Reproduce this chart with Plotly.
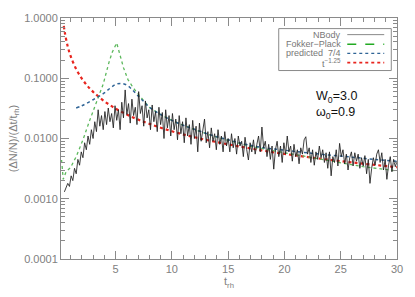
import numpy as np
import plotly.graph_objects as go

# ---------------- data ----------------
# t^-1.25 reference curve
t_pow = [0.4, 0.5, 0.75, 1, 1.5, 2, 2.5, 3, 4, 5, 6, 7, 8, 10, 12, 15, 18, 21, 24, 27, 30]
y_pow = [0.739, 0.559, 0.337, 0.235, 0.1416, 0.0988, 0.0747, 0.0595, 0.0415, 0.0314,
         0.0250, 0.0206, 0.0175, 0.0132, 0.0105, 0.0080, 0.00634, 0.00523, 0.00443,
         0.00382, 0.00334]

# predicted 7/4
t_pred = [1.5, 2, 2.5, 3, 3.5, 4, 4.5, 5, 5.5, 6, 6.5, 7, 7.5, 8, 9, 10, 11, 12, 13,
          14, 15, 16, 17, 18, 20, 22, 24, 26, 28, 30]
y_pred = [0.032, 0.035, 0.039, 0.044, 0.050, 0.057, 0.068, 0.079, 0.082, 0.077, 0.064,
          0.051, 0.041, 0.033, 0.025, 0.020, 0.0166, 0.0142, 0.0122, 0.0107, 0.0095,
          0.0085, 0.0077, 0.0071, 0.0064, 0.0058, 0.0053, 0.0049, 0.0045, 0.0042]

# Fokker-Planck
t_fp = [0.2, 0.35, 0.6, 1.0, 1.5, 2.1, 2.7, 3.3, 3.9, 4.4, 4.7, 5.1, 5.4, 5.7, 6.1,
        6.6, 7.1, 7.6, 8, 9, 10, 11, 12, 13, 14, 15, 17, 20, 23, 25, 27, 30]
y_fp = [0.0044, 0.0021, 0.0028, 0.0033, 0.0050, 0.0095, 0.020, 0.039, 0.080, 0.18,
        0.27, 0.385, 0.24, 0.15, 0.095, 0.068, 0.052, 0.041, 0.033, 0.025, 0.020,
        0.0166, 0.0141, 0.0121, 0.0105, 0.0093, 0.0074, 0.0058, 0.0046, 0.0039,
        0.0034, 0.0029]

# N-body (sampled every 0.15 t_rh from 0.45 to 30), units of 1e-3
nbody_t_start, nbody_t_step = 0.45, 0.15
nbody_milli = [
    1.3, 1.5, 1.8, 1.6, 2.4, 2.0, 3.2, 2.6, 4.5, 3.6, 6.0,
    4.8, 8.5, 6.5, 11, 8, 14, 10, 19, 13, 30, 16,
    24, 14, 28, 17, 32, 19, 26, 15, 35, 20, 30,
    14, 40, 22, 64, 25, 38, 18, 45, 24, 33, 17,
    60, 26, 35, 16, 42, 22, 30, 14, 36, 19, 28,
    13, 33, 17, 27, 10, 30, 15, 24, 11, 26, 14,
    21, 9.5, 24, 12, 19, 8.5, 22, 11, 17, 8, 20,
    10, 16, 6, 18, 9, 14, 21, 8.5, 13, 7, 15,
    9, 12, 6.5, 14, 8, 11, 6, 13, 7.5, 10, 6,
    12, 7, 10, 5.5, 11, 7.5, 9, 5, 10.5, 6.5, 4.4,
    8.5, 6, 9.5, 5.5, 8, 11, 6, 15.5, 7, 9, 5,
    8, 4.5, 7.5, 3.1, 6.5, 9, 5, 7.5, 4, 8.5, 5.5,
    11, 6, 7.5, 4.2, 8, 5, 6.5, 3.8, 7, 5.5, 9.5,
    10.7, 5.5, 7, 4, 6.5, 3.6, 6, 4.5, 7.5, 4.8, 6.5,
    4, 5.8, 3.2, 6, 2.4, 5, 4, 6.5, 3.5, 8.3, 5,
    6.5, 3.8, 5.5, 3, 4.8, 6, 3.5, 5.8, 4.2, 5.5, 3.2,
    4.8, 3.5, 5.2, 2.6, 4.5, 1.8, 3.2, 4.8, 3.6, 5.5, 6.5,
    4, 5.8, 3, 4.5, 2.1, 3.6, 5, 2.8, 4.5, 3.4, 4.2,
]
t_nb = nbody_t_start + nbody_t_step * np.arange(len(nbody_milli))
y_nb = np.array(nbody_milli) * 1e-3

y_tickvals = [0.0001, 0.001, 0.01, 0.1, 1.0]
y_ticktext = ["0.0001", "0.0010", "0.0100", "0.1000", "1.0000"]
x_tickvals = [5, 10, 15, 20, 25, 30]

legend_labels = ["NBody", "Fokker\u2212Plack", "predicted  7/4", "t<sup>\u22121.25</sup>"]

# ---------------- figure ----------------
C_NB = "#1e1e1e"
C_FP = "#5cb85c"
C_PR = "#2f6496"
C_PW = "#e8251e"
AX = "#8a8a8a"

fig = go.Figure()
fig.add_trace(go.Scatter(x=t_pow, y=y_pow, mode="lines", line=dict(color=C_PW, width=2.2, dash="dot", shape="spline"), showlegend=False))
fig.add_trace(go.Scatter(x=t_fp, y=y_fp, mode="lines", line=dict(color=C_FP, width=1.3, dash="dot"), showlegend=False))
fig.add_trace(go.Scatter(x=t_pred, y=y_pred, mode="lines", line=dict(color=C_PR, width=1.5, dash="dot", shape="spline"), showlegend=False))
fig.add_trace(go.Scatter(x=t_nb, y=y_nb, mode="lines", line=dict(color=C_NB, width=0.85), showlegend=False))

font = dict(family="Liberation Sans, Arial, sans-serif", size=11, color="#808080")

fig.update_layout(
    width=415, height=297,
    margin=dict(l=52, r=16, t=16, b=33),
    paper_bgcolor="white", plot_bgcolor="white",
    font=font,
    showlegend=False,
)
fig.update_xaxes(
    range=[0.15, 30], showgrid=False, zeroline=False,
    showline=True, linecolor=AX, linewidth=1, mirror="allticks",
    ticks="inside", ticklen=8, tickcolor=AX, tickwidth=1,
    tickvals=x_tickvals, ticktext=[str(v) for v in x_tickvals],
    minor=dict(ticks="inside", ticklen=4, tickcolor=AX, dtick=1, showgrid=False),
    title=dict(text="t<sub>rh</sub>", font=dict(size=11, color="#808080"), standoff=2),
)
fig.update_yaxes(
    type="log", range=[-4, 0], showgrid=False, zeroline=False,
    showline=True, linecolor=AX, linewidth=1, mirror="allticks",
    ticks="inside", ticklen=8, tickcolor=AX, tickwidth=1,
    tickvals=y_tickvals, ticktext=y_ticktext,
    minor=dict(ticks="inside", ticklen=4, tickcolor=AX, showgrid=False,
               tickvals=[m * 10.0 ** e for e in range(-4, 0) for m in range(2, 10)]),
    title=dict(text="(\u0394N/N)/(\u0394t/t<sub>rh</sub>)", font=dict(size=11, color="#808080"), standoff=4),
)

# legend box (drawn manually: text right-aligned, sample line to the right)
fig.add_shape(type="rect", xref="paper", yref="paper", x0=0.648, x1=0.983, y0=0.782, y1=0.956,
              line=dict(color=AX, width=1), fillcolor="white", layer="above")
rows_y = [0.931, 0.891, 0.853, 0.815]
styles = [dict(color="#888888", width=1, dash="solid"),
          dict(color="#22aa22", width=1.3, dash="dash"),
          dict(color=C_PR, width=1.3, dash="dot"),
          dict(color=C_PW, width=1.6, dash="dot")]
for lab, yy, st in zip(legend_labels, rows_y, styles):
    fig.add_annotation(xref="paper", yref="paper", x=0.838, y=yy, text=lab, showarrow=False,
                       xanchor="right", yanchor="middle", font=dict(size=9, color="#777777"))
    fig.add_shape(type="line", xref="paper", yref="paper", x0=0.852, x1=0.962, y0=yy, y1=yy,
                  line=st, layer="above")

fig.add_annotation(xref="paper", yref="paper", x=0.752, y=0.64,
                   text="W<sub>0</sub>=3.0<br>\u03c9<sub>0</sub>=0.9",
                   showarrow=False, xanchor="left", yanchor="middle", align="left",
                   font=dict(size=12.5, color="#111111"))

fig.write_html("out.html", post_script="document.body.style.margin='0';",
               config={"displayModeBar": False})
